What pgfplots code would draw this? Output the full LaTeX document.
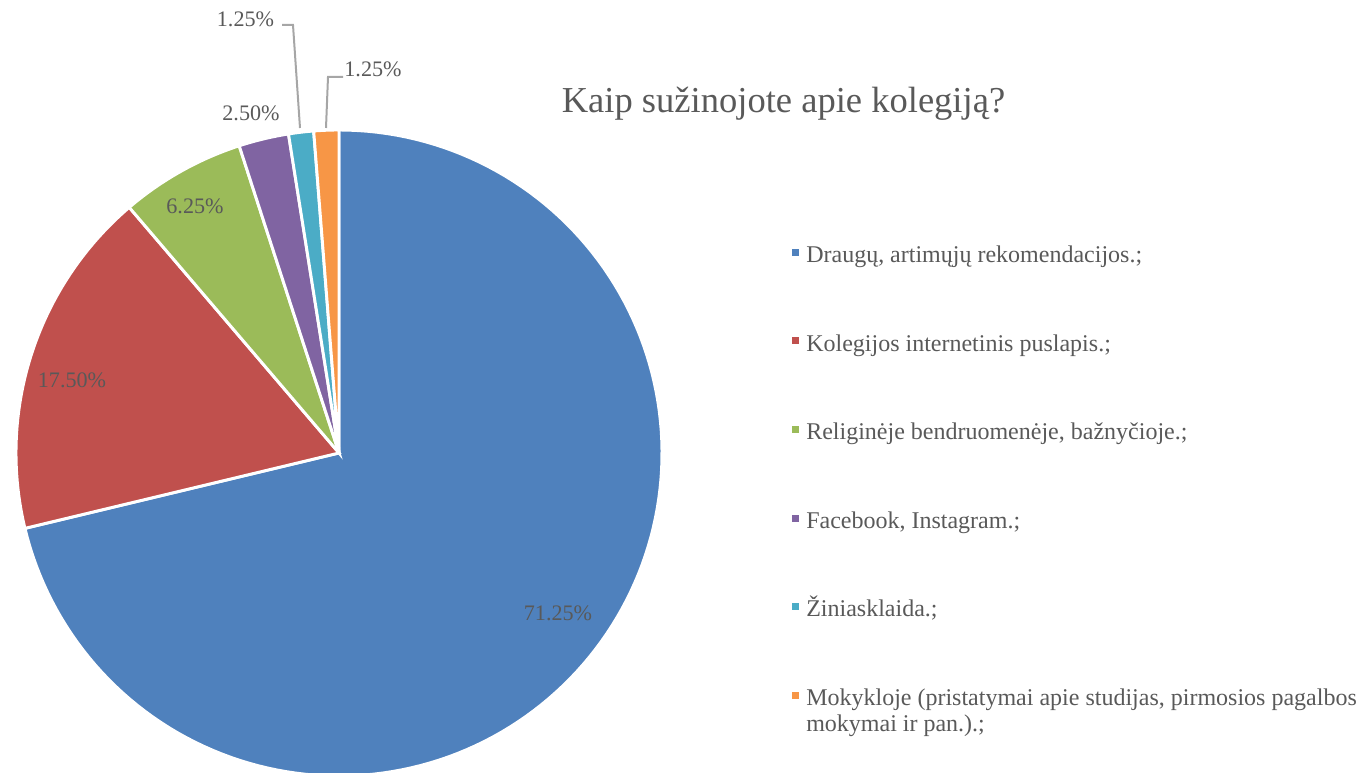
\documentclass[border=0pt]{standalone}
\usepackage{pgfplots}
\pgfplotsset{compat=1.18}
\usepackage{fontspec}
\setmainfont{Liberation Serif}
\definecolor{cBlue}{HTML}{4F81BD}
\definecolor{cRed}{HTML}{C0504D}
\definecolor{cGreen}{HTML}{9BBB59}
\definecolor{cPurple}{HTML}{8064A2}
\definecolor{cTeal}{HTML}{4BACC6}
\definecolor{cOrange}{HTML}{F79646}
\definecolor{txt}{HTML}{595959}
\definecolor{lead}{HTML}{A6A6A6}
% pie centre and radius (in picture pixels)
\def\cx{339}\def\cy{320}\def\R{323}
% shares in percent
\def\vA{71.25}\def\vB{17.50}\def\vC{6.25}\def\vD{2.50}\def\vE{1.25}\def\vF{1.25}
\newcommand\slice[3]{% start cum, value, colour
  \pgfmathsetmacro\angEnd{90-3.6*(#1)}%
  \pgfmathsetmacro\angStart{90-3.6*(#1+#2)}%
  \edef\doslice{\noexpand\addplot[fill=#3, draw=white, line width=2.2pt, samples=150, variable=\noexpand\t,
    domain=\angStart:\angEnd]
    ({\noexpand\cx+\noexpand\R*cos(\noexpand\t)},{\noexpand\cy+\noexpand\R*sin(\noexpand\t)}) -- (axis cs:\noexpand\cx,\noexpand\cy) -- cycle;}%
  \doslice}
\begin{document}
\begin{tikzpicture}
\begin{axis}[
  width=1029pt, height=579.75pt, scale only axis,
  xmin=0, xmax=1372, ymin=0, ymax=773,
  hide axis, clip=true,
]
\slice{0}{\vA}{cBlue}
\slice{\vA}{\vB}{cRed}
\slice{\vA+\vB}{\vC}{cGreen}
\slice{\vA+\vB+\vC}{\vD}{cPurple}
\slice{\vA+\vB+\vC+\vD}{\vE}{cTeal}
\slice{\vA+\vB+\vC+\vD+\vE}{\vF}{cOrange}
% data labels
\tikzset{lab/.style={text=txt, anchor=base, inner sep=0pt, font=\fontsize{16.6}{19}\selectfont}}
\node[lab] at (axis cs:558,152) {71.25\%};
\node[lab] at (axis cs:72,385) {17.50\%};
\node[lab] at (axis cs:195,559) {6.25\%};
\node[lab] at (axis cs:251,652) {2.50\%};
\node[lab] at (axis cs:245.5,746) {1.25\%};
\node[lab] at (axis cs:373,696) {1.25\%};
\draw[lead, line width=1.5pt] (axis cs:282,748) -- (axis cs:293,748) -- (axis cs:300,645);
\draw[lead, line width=1.5pt] (axis cs:343,696) -- (axis cs:328,696) -- (axis cs:326,645);
% title
\node[text=txt, anchor=base, inner sep=0pt, font=\fontsize{27.4}{31}\selectfont] at (axis cs:783.5,660) {Kaip sužinojote apie kolegiją?};
% legend
\tikzset{leg/.style={text=txt, anchor=base west, inner sep=0pt, font=\fontsize{18}{21}\selectfont}}
\fill[cBlue]   (axis cs:791.5,517) rectangle (axis cs:798.5,524);
\node[leg] at (axis cs:806,510) {Draugų, artimųjų rekomendacijos.;};
\fill[cRed]    (axis cs:791.5,428.5) rectangle (axis cs:798.5,435.5);
\node[leg] at (axis cs:806,421.5) {Kolegijos internetinis puslapis.;};
\fill[cGreen]  (axis cs:791.5,340) rectangle (axis cs:798.5,347);
\node[leg] at (axis cs:806,333) {Religinėje bendruomenėje, bažnyčioje.;};
\fill[cPurple] (axis cs:791.5,251) rectangle (axis cs:798.5,258);
\node[leg] at (axis cs:806,244) {Facebook, Instagram.;};
\fill[cTeal]   (axis cs:791.5,163) rectangle (axis cs:798.5,170);
\node[leg] at (axis cs:806,156) {Žiniasklaida.;};
\fill[cOrange] (axis cs:791.5,74) rectangle (axis cs:798.5,81);
\node[leg] at (axis cs:806,67) {Mokykloje (pristatymai apie studijas, pirmosios pagalbos};
\node[leg] at (axis cs:806,41) {mokymai ir pan.).;};
\end{axis}
\pgfresetboundingbox
\path (current axis.south west) rectangle (current axis.north east);
\end{tikzpicture}
\end{document}
